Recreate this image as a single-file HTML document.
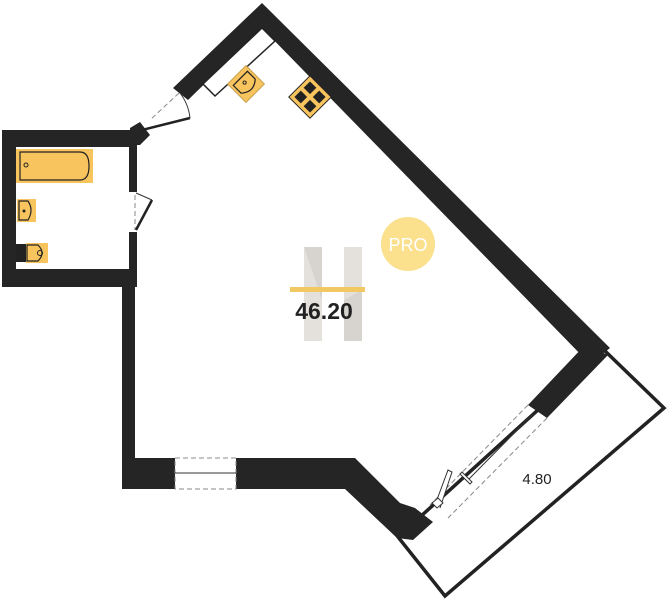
<!DOCTYPE html>
<html><head><meta charset="utf-8"><style>body{margin:0;background:#fff}svg{display:block}</style></head><body>
<svg width="669" height="600" viewBox="0 0 669 600" xmlns="http://www.w3.org/2000/svg">
<rect width="669" height="600" fill="#fff"/>
<polygon points="604,350 664,408 445,596 398,537" fill="none" stroke="#222" stroke-width="3.5"/>
<g fill="#252525">
<polygon points="262,3 610,348 590,364 262,28 188,100 173,88"/>
<polygon points="585,345 608,355 547,418 528,405"/>
<rect x="2" y="130" width="135" height="17"/>
<rect x="2" y="130" width="14" height="157"/>
<rect x="2" y="269" width="135" height="18"/>
<rect x="129" y="130" width="8" height="62"/>
<rect x="129" y="232" width="8" height="40"/>
<polygon points="130,128 140,122 150,135 140,145 130,145"/>
<rect x="122" y="270" width="13" height="219"/>
<rect x="122" y="458" width="53" height="31"/>
<polygon points="236,458 355,458 400,503 415,508 433,522 413,540 397,538 345,489 236,489"/>
</g>
<g fill="none" stroke="#888" stroke-dasharray="5,3" stroke-width="1">
<rect x="175" y="458" width="61" height="31"/>
<line x1="528" y1="405" x2="430" y2="505"/><line x1="547" y1="418" x2="448" y2="518"/>
<line x1="179" y1="93" x2="150" y2="120"/><line x1="135" y1="195" x2="135" y2="230"/>
</g>
<line x1="175" y1="473" x2="236" y2="473" stroke="#333" stroke-width="1"/>
<line x1="533" y1="414" x2="468" y2="480" stroke="#333" stroke-width="1"/>
<polygon points="460,474 470,484 472,482 462,472" fill="#fff" stroke="#333"/>
<polyline points="435,505 448,470 452,472 440,508" fill="#fff" stroke="#333" stroke-width="1"/>
<polygon points="432,503 438,498 443,503 437,508" fill="#fff" stroke="#333"/>
<line x1="142" y1="130" x2="190" y2="118" stroke="#222" stroke-width="2.5"/>
<path d="M190 118 A50 50 0 0 0 180 93" fill="none" stroke="#333" stroke-width="1"/>
<line x1="136" y1="230" x2="152" y2="200" stroke="#222" stroke-width="2.5"/>
<path d="M152 200 L136 193" fill="none" stroke="#333" stroke-width="1"/>
<polygon points="262,28 275,41 215,96 203,84" fill="#fff" stroke="#222" stroke-width="1.5"/>
<g transform="translate(246,84) rotate(-45)"><rect x="-13" y="-13" width="26" height="26" fill="#f8c45e" stroke="#c9a050"/><path d="M-10 -8 H10 V3 Q0 12 -10 3 Z" fill="#f8c45e" stroke="#222" stroke-width="1.2"/><circle cx="0" cy="-2" r="1.6" fill="none" stroke="#222"/></g>
<g transform="translate(310,97) rotate(-45)"><rect x="-15" y="-15" width="30" height="30" fill="#f8c45e" stroke="#222" stroke-width="1"/><rect x="-11" y="-11" width="9" height="9" fill="#222"/><rect x="2" y="-11" width="9" height="9" fill="#222"/><rect x="-11" y="2" width="9" height="9" fill="#222"/><rect x="2" y="2" width="9" height="9" fill="#222"/></g>
<rect x="16" y="149" width="77" height="34" fill="#f8c45e"/>
<path d="M20 152 H80 Q89 152 89 166 Q89 180 80 180 H20 Z" fill="#f8c45e" stroke="#222" stroke-width="1.2"/>
<circle cx="26" cy="165" r="2" fill="none" stroke="#222"/>
<rect x="17" y="199" width="19" height="23" fill="#f8c45e"/>
<path d="M19 201 H28 Q34 210 28 220 H19 Z" fill="#f8c45e" stroke="#222" stroke-width="1.2"/>
<circle cx="24" cy="211" r="1.5" fill="#222"/>
<rect x="16" y="244" width="10" height="18" fill="#222"/>
<rect x="26" y="243" width="22" height="20" fill="#f8c45e"/>
<path d="M27 245 H38 Q46 253 38 261 H27 Z" fill="#f8c45e" stroke="#222" stroke-width="1.2"/>
<circle cx="40" cy="253" r="2.5" fill="none" stroke="#222"/>
<g opacity="0.55">
<rect x="304" y="247" width="18" height="94" fill="#cfc8c0"/>
<rect x="344" y="247" width="18" height="94" fill="#cfc8c0"/>
<polygon points="304,247 322,247 322,300" fill="#b8b0a8"/>
<polygon points="344,300 362,290 362,341 344,341" fill="#b8b0a8"/>
</g>
<rect x="290" y="287" width="75" height="5" fill="#f2c862"/>
<circle cx="408" cy="244" r="27" fill="#fbe08e"/>
<text x="408" y="251" font-family="Liberation Sans, sans-serif" font-size="18" fill="#fff" text-anchor="middle">PRO</text>
<text x="324" y="319" font-family="Liberation Sans, sans-serif" font-size="23" font-weight="bold" fill="#222" text-anchor="middle">46.20</text>
<text x="537" y="484" font-family="Liberation Sans, sans-serif" font-size="15" fill="#222" text-anchor="middle">4.80</text>
</svg>
</body></html>
